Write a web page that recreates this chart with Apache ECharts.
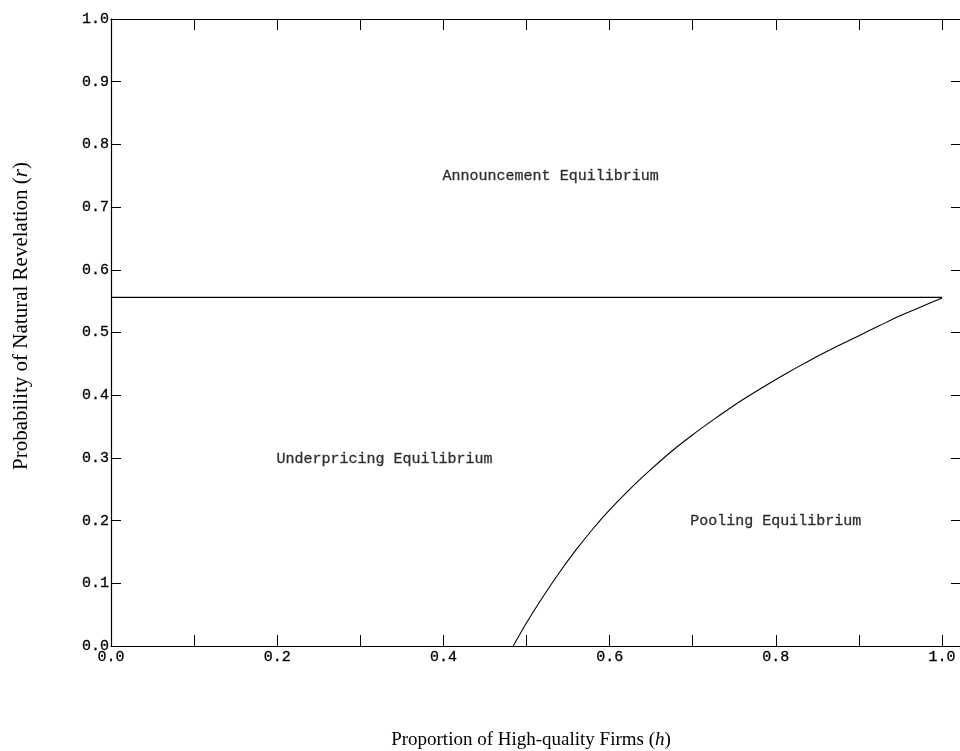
<!DOCTYPE html>
<html>
<head>
<meta charset="utf-8">
<script src="https://cdn.jsdelivr.net/npm/echarts@6/dist/echarts.min.js"></script>
<style>
html,body{margin:0;padding:0;background:#fff;}
#chart{width:960px;height:751px;}
</style>
</head>
<body>
<div id="chart"></div>
<script>
// ---- data ----
const xTickValues = [0, 0.1, 0.2, 0.3, 0.4, 0.5, 0.6, 0.7, 0.8, 0.9, 1.0];
const xLabelValues = [0, 0.2, 0.4, 0.6, 0.8, 1.0];
const yTickValues = [0, 0.1, 0.2, 0.3, 0.4, 0.5, 0.6, 0.7, 0.8, 0.9, 1.0];

// horizontal boundary (announcement vs. others)
const thresholdH = [0, 1.0];
const thresholdR = [0.556, 0.556];

// curved boundary (underpricing vs. pooling)
const boundaryH = [0.484, 0.50, 0.52, 0.54, 0.56, 0.58, 0.60, 0.625, 0.65, 0.675, 0.70, 0.725,
                   0.75, 0.775, 0.80, 0.825, 0.85, 0.875, 0.90, 0.925, 0.95, 0.975, 1.0];
const boundaryR = [0.0, 0.037, 0.079, 0.118, 0.154, 0.187, 0.217, 0.251, 0.282, 0.311, 0.337, 0.361,
                   0.384, 0.405, 0.425, 0.444, 0.462, 0.479, 0.495, 0.511, 0.527, 0.541, 0.555];

// region labels
const regionNames = ['Announcement Equilibrium', 'Underpricing Equilibrium', 'Pooling Equilibrium'];
const regionH = [0.529, 0.329, 0.8];
const regionR = [0.75, 0.298, 0.2];

const xTitle = 'Proportion of High-quality Firms';
const xVar = 'h';
const yTitle = 'Probability of Natural Revelation';
const yVar = 'r';

// ---- chart ----
const chart = echarts.init(document.getElementById('chart'), null, {renderer: 'canvas'});
const monoFont = 'Liberation Mono';
const serifFont = 'Liberation Serif';
const ink = '#000';
const fmt = v => Number(v).toFixed(1);

const gridLeft = 111, gridTop = 19, gridW = 851, gridH = 627;

const textThick = {textBorderColor: ink, textBorderWidth: 0.3};

const option = {
  animation: false,
  backgroundColor: '#fff',
  grid: {left: gridLeft, top: gridTop, width: gridW, height: gridH, containLabel: false},
  xAxis: [
    {
      type: 'value', min: 0, max: 1.0216, position: 'bottom',
      axisLine: {show: true, onZero: false, lineStyle: {color: ink, width: 1.2}},
      axisTick: {show: true, inside: true, length: 11, customValues: xTickValues, lineStyle: {color: ink, width: 1}},
      axisLabel: Object.assign({show: true, customValues: xLabelValues, formatter: fmt, margin: 4,
                  fontFamily: monoFont, fontSize: 15, color: ink}, textThick),
      splitLine: {show: false}
    },
    {
      type: 'value', min: 0, max: 1.0216, position: 'top',
      axisLine: {show: true, onZero: false, lineStyle: {color: ink, width: 1.2}},
      axisTick: {show: true, inside: true, length: 11, customValues: xTickValues, lineStyle: {color: ink, width: 1}},
      axisLabel: {show: false},
      splitLine: {show: false}
    }
  ],
  yAxis: [
    {
      type: 'value', min: 0, max: 1, interval: 0.1, position: 'left',
      axisLine: {show: true, onZero: false, lineStyle: {color: ink, width: 1.2}},
      axisTick: {show: true, inside: true, length: 10, lineStyle: {color: ink, width: 1}},
      axisLabel: Object.assign({show: true, formatter: fmt, margin: 2, fontFamily: monoFont, fontSize: 15, color: ink}, textThick),
      splitLine: {show: false}
    },
    {
      type: 'value', min: 0, max: 1, interval: 0.1, position: 'right',
      axisLine: {show: false, onZero: false},
      axisTick: {show: true, inside: true, length: 9, lineStyle: {color: ink, width: 1}},
      axisLabel: {show: false},
      splitLine: {show: false}
    }
  ],
  graphic: [
    {
      type: 'text', x: 531, y: 740,
      style: {
        text: xTitle + ' ({i|' + xVar + '})',
        font: '19px "' + serifFont + '"', fill: ink, align: 'center', verticalAlign: 'middle',
        rich: {i: {fontFamily: serifFont, fontSize: 19, fontStyle: 'italic', fill: ink}}
      }
    },
    {
      type: 'text', x: 21, y: 316, rotation: Math.PI / 2,
      style: {
        text: yTitle + ' ({i|' + yVar + '})',
        font: '21px "' + serifFont + '"', fill: ink, align: 'center', verticalAlign: 'middle',
        rich: {i: {fontFamily: serifFont, fontSize: 21, fontStyle: 'italic', fill: ink}}
      }
    }
  ],
  series: [
    {
      type: 'line', xAxisIndex: 0, yAxisIndex: 0,
      data: thresholdH.map((h, i) => [h, thresholdR[i]]),
      showSymbol: false, symbol: 'none',
      lineStyle: {color: ink, width: 1.1},
      silent: true
    },
    {
      type: 'line', xAxisIndex: 0, yAxisIndex: 0,
      data: boundaryH.map((h, i) => [h, boundaryR[i]]),
      showSymbol: false, symbol: 'none', smooth: 0.2,
      lineStyle: {color: ink, width: 1.1},
      silent: true
    },
    {
      type: 'scatter', xAxisIndex: 0, yAxisIndex: 0,
      symbolSize: 1, itemStyle: {color: 'rgba(0,0,0,0)'},
      data: regionNames.map((n, i) => ({name: n, value: [regionH[i], regionR[i]]})),
      label: Object.assign({show: true, position: 'inside', formatter: p => p.name,
              fontFamily: monoFont, fontSize: 15, color: ink}, textThick),
      silent: true
    }
  ]
};
chart.setOption(option);
</script>
</body>
</html>
